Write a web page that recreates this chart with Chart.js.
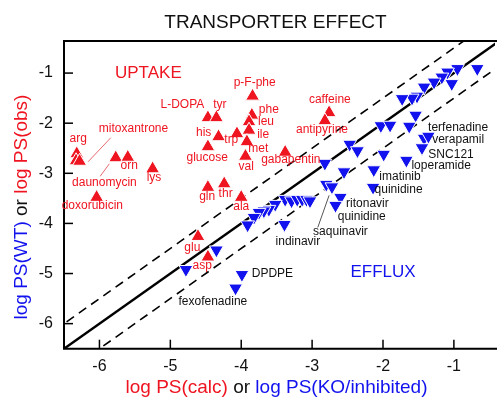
<!DOCTYPE html>
<html><head><meta charset="utf-8">
<script src="https://cdn.jsdelivr.net/npm/chart.js@4"></script>
<style>html,body{margin:0;padding:0;background:#fff}#wrap{width:504px;height:400px}</style>
</head><body><div id="wrap"><canvas id="c" width="504" height="400"></canvas></div>
<script>
// ---- data (log PS units) ----
const tickValues = [-6, -5, -4, -3, -2, -1];
const axisMin = -6.5, xMax = -0.42, yMax = -0.36;
const foldOffsets = [0, 0.5, -0.5];

// uptake (red, observed vs calculated)
const uptakeX = [-6.32,-6.33,-6.28,-5.77,-5.60,-5.25,-6.04,-4.47,-4.35,-4.32,-4.47,-3.84,-3.85,-3.89,-3.89,-4.06,-3.92,-3.94,-3.38,-2.76,-2.82,-4.47,-4.24,-4.00,-4.61,-4.47];
const uptakeY = [-2.61,-2.75,-2.76,-2.69,-2.68,-2.91,-3.48,-1.89,-1.89,-2.27,-2.47,-1.46,-1.84,-1.97,-2.14,-2.21,-2.37,-2.66,-2.58,-1.79,-1.95,-3.28,-3.21,-3.48,-4.26,-4.67];

// efflux (blue, WT vs KO/inhibited)
const effluxX = [-0.67,-0.95,-1.09,-1.03,-1.17,-1.28,-1.42,-1.52,-1.59,-1.73,-1.54,-2.03,-1.90,-1.63,-1.42,-1.36,-1.45,-2.47,-2.36,-1.99,-1.67,-2.82,-2.55,-2.13,-2.14,-2.80,-2.72,-2.60,-2.67,-3.38,-3.29,-3.21,-3.14,-3.08,-3.03,-3.52,-3.61,-3.68,-3.75,-3.82,-3.91,-3.39,-4.35,-4.78,-3.99,-4.08];
const effluxY = [-0.91,-0.91,-0.98,-1.21,-1.08,-1.18,-1.28,-1.46,-1.50,-1.51,-1.84,-2.05,-2.04,-2.06,-2.30,-2.26,-2.49,-2.42,-2.55,-2.62,-2.74,-2.80,-2.97,-2.93,-3.28,-3.22,-3.27,-3.48,-3.64,-3.52,-3.55,-3.52,-3.52,-3.52,-3.55,-3.62,-3.72,-3.75,-3.78,-3.88,-4.03,-4.02,-4.53,-4.92,-5.02,-5.29];

// compound labels (anchor in data units)
const redLabels = ['arg','mitoxantrone','orn','daunomycin','lys','doxorubicin','L-DOPA','tyr','p-F-phe','phe','leu','ile','met','his','trp','glucose','val','gabapentin','caffeine','antipyrine','gln','thr','ala','glu','asp'];
const redLabelX = [-6.30,-5.52,-5.58,-5.93,-5.23,-6.10,-4.83,-4.30,-3.81,-3.61,-3.65,-3.69,-3.76,-4.53,-4.14,-4.48,-3.93,-3.30,-2.75,-2.86,-4.48,-4.22,-4.00,-4.69,-4.55];
const redLabelY = [-2.31,-2.10,-2.85,-3.18,-3.08,-3.65,-1.64,-1.64,-1.19,-1.74,-1.98,-2.22,-2.51,-2.19,-2.32,-2.68,-2.87,-2.73,-1.53,-2.12,-3.47,-3.41,-3.67,-4.48,-4.84];
const blackLabels = ['terfenadine','verapamil','SNC121','loperamide','imatinib','quinidine','ritonavir','quinidine','saquinavir','indinavir','DPDPE','fexofenadine'];
const blackLabelX = [-0.94,-0.94,-1.04,-1.18,-1.76,-1.78,-2.22,-2.30,-2.60,-3.20,-3.56,-4.40];
const blackLabelY = [-2.08,-2.33,-2.63,-2.85,-3.07,-3.33,-3.60,-3.87,-4.17,-4.37,-5.00,-5.57];
const regionLabels = ['UPTAKE','EFFLUX'];
const regionLabelX = [-5.31,-2.00];
const regionLabelY = [-1.00,-4.98];
// leader lines: [x1,y1,x2,y2]
const leaderRed = [[-5.84,-2.29,-6.16,-2.77],[-5.86,-2.81,-5.99,-3.06]];
const leaderBlack = [[-2.76,-3.44,-2.92,-4.08]];

const RED = '#ee1420', BLUE = '#1212ee', FONT = '"Liberation Sans", Arial, sans-serif';

const pts = (xs, ys) => xs.map((x, i) => ({x, y: ys[i]}));
const foldLine = off => [{x: axisMin - 1, y: axisMin - 1 + off}, {x: 0, y: off}];

const annot = {
  id: 'annot',
  afterDatasetsDraw(chart) {
    const ctx = chart.ctx, xs = chart.scales.x, ys = chart.scales.y, a = chart.chartArea;
    ctx.save();
    ctx.strokeStyle = '#000'; ctx.lineWidth = 2;
    ctx.beginPath();
    ctx.moveTo(a.right + 2, a.top); ctx.lineTo(a.left, a.top); ctx.lineTo(a.left, a.bottom); ctx.lineTo(a.right + 2, a.bottom);
    ctx.stroke();
    ctx.lineWidth = 1.5;
    tickValues.forEach(v => {
      const px = xs.getPixelForValue(v), py = ys.getPixelForValue(v);
      ctx.beginPath(); ctx.moveTo(px, a.bottom); ctx.lineTo(px, a.bottom - 9); ctx.stroke();
      ctx.beginPath(); ctx.moveTo(a.left, py); ctx.lineTo(a.left + 9, py); ctx.stroke();
    });
    ctx.lineWidth = 1;
    ctx.strokeStyle = '#e86a70';
    leaderRed.forEach(l => { ctx.beginPath(); ctx.moveTo(xs.getPixelForValue(l[0]), ys.getPixelForValue(l[1])); ctx.lineTo(xs.getPixelForValue(l[2]), ys.getPixelForValue(l[3])); ctx.stroke(); });
    ctx.strokeStyle = '#555';
    leaderBlack.forEach(l => { ctx.beginPath(); ctx.moveTo(xs.getPixelForValue(l[0]), ys.getPixelForValue(l[1])); ctx.lineTo(xs.getPixelForValue(l[2]), ys.getPixelForValue(l[3])); ctx.stroke(); });
    ctx.textAlign = 'center'; ctx.textBaseline = 'middle';
    ctx.font = '12px ' + FONT; ctx.fillStyle = RED;
    redLabels.forEach((t, i) => ctx.fillText(t, xs.getPixelForValue(redLabelX[i]), ys.getPixelForValue(redLabelY[i])));
    ctx.fillStyle = '#111';
    blackLabels.forEach((t, i) => ctx.fillText(t, xs.getPixelForValue(blackLabelX[i]), ys.getPixelForValue(blackLabelY[i])));
    ctx.font = '17px ' + FONT;
    regionLabels.forEach((t, i) => { ctx.fillStyle = i === 0 ? RED : BLUE; ctx.fillText(t, xs.getPixelForValue(regionLabelX[i]), ys.getPixelForValue(regionLabelY[i])); });
    ctx.restore();
  },
  afterDraw(chart) {
    const ctx = chart.ctx;
    const parts = (p, cx, cy, font) => {
      ctx.font = font; ctx.textBaseline = 'middle'; ctx.textAlign = 'left';
      const total = p.reduce((s, q) => s + ctx.measureText(q[0]).width, 0);
      let x = cx - total / 2;
      p.forEach(q => { ctx.fillStyle = q[1]; ctx.fillText(q[0], x, cy); x += ctx.measureText(q[0]).width; });
    };
    ctx.save();
    parts([['TRANSPORTER EFFECT', '#111']], 275.5, 22.5, '19px ' + FONT);
    parts([['log PS(calc)', RED], [' or ', '#111'], ['log PS(KO/inhibited)', BLUE]], 276.5, 388, '19px ' + FONT);
    ctx.translate(22, 207); ctx.rotate(-Math.PI / 2);
    parts([['log PS(WT)', BLUE], [' or ', '#111'], ['log PS(obs)', RED]], 0, 0, '19px ' + FONT);
    ctx.restore();
  }
};

const tickOpts = {padding: 0, font: {size: 16, family: FONT}, color: '#111', callback: v => String(v)};

new Chart(document.getElementById('c'), {
  type: 'scatter',
  data: {
    datasets: [
      {data: pts(uptakeX, uptakeY), order: 0, pointStyle: 'triangle', pointRadius: 8, pointRotation: 0,
       pointBackgroundColor: RED, pointBorderColor: '#fff', pointBorderWidth: 1, backgroundColor: RED, borderColor: '#fff'},
      {data: pts(effluxX, effluxY), order: 1, pointStyle: 'triangle', pointRadius: 8, pointRotation: 180,
       pointBackgroundColor: BLUE, pointBorderColor: '#fff', pointBorderWidth: 1, backgroundColor: BLUE, borderColor: '#fff'},
      ...foldOffsets.map(off => ({type: 'line', data: foldLine(off), order: 5, borderColor: '#000',
        borderWidth: off === 0 ? 2.5 : 1.6, borderDash: off === 0 ? [] : [9, 6], pointRadius: 0, fill: false}))
    ]
  },
  options: {
    responsive: false, animation: false, devicePixelRatio: 1,
    layout: {padding: {left: 0, top: 41, right: 0, bottom: 0}},
    plugins: {legend: {display: false}, tooltip: {enabled: false}, title: {display: false}},
    scales: {
      x: {type: 'linear', min: axisMin, max: xMax,
          afterBuildTicks: s => { s.ticks = tickValues.map(v => ({value: v})); },
          afterFit: s => { s.height = 51.3; },
          grid: {display: false}, border: {display: false}, ticks: tickOpts},
      y: {type: 'linear', min: axisMin, max: yMax,
          afterBuildTicks: s => { s.ticks = tickValues.map(v => ({value: v})); },
          afterFit: s => { s.width = 64; },
          grid: {display: false}, border: {display: false}, ticks: Object.assign({}, tickOpts, {padding: 3})}
    }
  },
  plugins: [annot]
});
</script>
</body></html>
